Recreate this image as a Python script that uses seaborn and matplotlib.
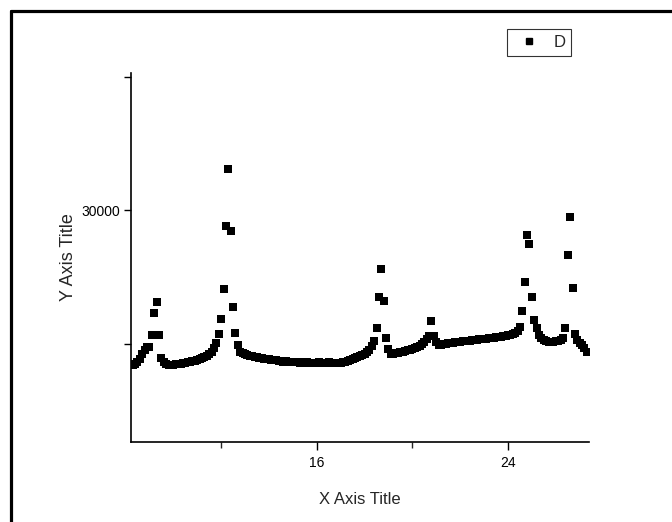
import matplotlib
matplotlib.use("Agg")
import matplotlib.pyplot as plt
import seaborn as sns
from matplotlib.lines import Line2D

# diffraction scan
two_theta = [
    8.3, 8.4, 8.5, 8.6, 8.7, 8.8, 8.9, 9.0, 9.1, 9.2,
    9.3, 9.4, 9.5, 9.6, 9.7, 9.8, 9.9, 10.0, 10.1, 10.2,
    10.3, 10.4, 10.5, 10.6, 10.7, 10.8, 10.9, 11.0, 11.1, 11.2,
    11.3, 11.4, 11.5, 11.6, 11.7, 11.8, 11.9, 12.0, 12.1, 12.2,
    12.3, 12.4, 12.5, 12.6, 12.7, 12.8, 12.9, 13.0, 13.1, 13.2,
    13.3, 13.4, 13.5, 13.6, 13.7, 13.8, 13.9, 14.0, 14.1, 14.2,
    14.3, 14.4, 14.5, 14.6, 14.7, 14.8, 14.9, 15.0, 15.1, 15.2,
    15.3, 15.4, 15.5, 15.6, 15.7, 15.8, 15.9, 16.0, 16.1, 16.2,
    16.3, 16.4, 16.5, 16.6, 16.7, 16.8, 16.9, 17.0, 17.1, 17.2,
    17.3, 17.4, 17.5, 17.6, 17.7, 17.8, 17.9, 18.0, 18.1, 18.2,
    18.3, 18.4, 18.5, 18.6, 18.7, 18.8, 18.9, 19.0, 19.1, 19.2,
    19.3, 19.4, 19.5, 19.6, 19.7, 19.8, 19.9, 20.0, 20.1, 20.2,
    20.3, 20.4, 20.5, 20.6, 20.7, 20.8, 20.9, 21.0, 21.1, 21.2,
    21.3, 21.4, 21.5, 21.6, 21.7, 21.8, 21.9, 22.0, 22.1, 22.2,
    22.3, 22.4, 22.5, 22.6, 22.7, 22.8, 22.9, 23.0, 23.1, 23.2,
    23.3, 23.4, 23.5, 23.6, 23.7, 23.8, 23.9, 24.0, 24.1, 24.2,
    24.3, 24.4, 24.5, 24.6, 24.7, 24.8, 24.9, 25.0, 25.1, 25.2,
    25.3, 25.4, 25.5, 25.6, 25.7, 25.8, 25.9, 26.0, 26.1, 26.2,
    26.3, 26.4, 26.5, 26.6, 26.7, 26.8, 26.9, 27.0, 27.1, 27.2,
    27.3,
]
intensity = [
    18390, 18460, 18610, 18840, 19210, 19510, 19740, 19740, 20640, 22280,
    23110, 20640, 18910, 18610, 18460, 18390, 18390, 18390, 18460, 18460,
    18460, 18540, 18540, 18610, 18610, 18690, 18690, 18760, 18840, 18910,
    18990, 19060, 19210, 19360, 19660, 20040, 20710, 21840, 24080, 28800,
    33070, 28430, 22730, 20790, 19890, 19360, 19290, 19210, 19140, 19060,
    19060, 18990, 18990, 18910, 18910, 18840, 18840, 18840, 18760, 18760,
    18760, 18690, 18690, 18610, 18690, 18610, 18610, 18610, 18610, 18610,
    18540, 18610, 18540, 18610, 18540, 18540, 18540, 18540, 18610, 18540,
    18540, 18540, 18610, 18540, 18540, 18540, 18540, 18540, 18610, 18610,
    18690, 18760, 18840, 18910, 18990, 19060, 19140, 19210, 19360, 19510,
    19810, 20190, 21160, 23480, 25580, 23180, 20410, 19590, 19210, 19210,
    19290, 19290, 19360, 19360, 19440, 19510, 19510, 19590, 19660, 19740,
    19810, 19960, 20110, 20340, 20560, 21690, 20560, 20110, 19890, 19890,
    19960, 19960, 20040, 20040, 20040, 20110, 20110, 20110, 20190, 20190,
    20190, 20190, 20260, 20260, 20260, 20340, 20340, 20340, 20340, 20410,
    20410, 20410, 20490, 20490, 20490, 20560, 20560, 20640, 20640, 20710,
    20790, 20940, 21240, 22430, 24610, 28130, 27450, 23480, 21760, 21160,
    20640, 20410, 20260, 20190, 20110, 20110, 20110, 20190, 20190, 20260,
    20410, 21160, 26630, 29480, 24160, 20710, 20260, 20040, 19890, 19660,
    19360,
]
series_name = "D"
x_major = [16, 24]
x_minor = [12, 20]
y_ticks = [20000, 30000, 40000]
y_ticklabels = ["", "30000", ""]

sns.set_style("ticks")
plt.rcParams["font.family"] = ["Liberation Sans", "DejaVu Sans"]

fig = plt.figure(figsize=(6.72, 5.22), dpi=100)
ax = fig.add_axes([0.195, 0.154, 0.6815, 0.706])

sns.scatterplot(x=two_theta, y=intensity, marker="s", s=28, color="black",
                linewidth=0, ax=ax, legend=False)

ax.set_xlim(8.23, 27.39)
ax.set_ylim(12660, 40260)
ax.set_xticks(x_major)
ax.set_xticks(x_minor, minor=True)
ax.set_yticks(y_ticks)
ax.set_yticklabels(y_ticklabels)
ax.tick_params(axis="both", which="major", direction="out", length=6,
               width=1, labelsize=10, colors="black", pad=4)
ax.tick_params(axis="x", which="minor", direction="out", length=4, width=1)
ax.tick_params(axis="y", which="major", length=5, pad=3)

for side in ["top", "right"]:
    ax.spines[side].set_visible(False)
for side in ["left", "bottom"]:
    ax.spines[side].set_linewidth(1.2)
    ax.spines[side].set_color("black")

ax.set_xlabel("X Axis Title", fontsize=12)
ax.set_ylabel("Y Axis Title", fontsize=13)
ax.xaxis.set_label_coords(0.5, -0.137)
ax.yaxis.set_label_coords(-0.119, 0.5)

handle = Line2D([], [], marker="s", linestyle="none", color="black", markersize=5)
leg = ax.legend([handle], [series_name], loc="upper right",
                bbox_to_anchor=(571 / 672, 1 - 29 / 522),
                bbox_transform=fig.transFigure, borderaxespad=0,
                frameon=True, fancybox=False, edgecolor="black",
                fontsize=12, handlelength=2.0, handletextpad=0.45,
                borderpad=0.35)
leg.get_frame().set_linewidth(0.8)

# page frame (only top and left edges show in the source)
fig.add_artist(Line2D([10.5 / 672, 1], [1 - 10.5 / 522] * 2, color="black", lw=2.3,
                      transform=fig.transFigure))
fig.add_artist(Line2D([10.5 / 672] * 2, [0, 1 - 10.5 / 522], color="black", lw=2.3,
                      transform=fig.transFigure))

fig.savefig("out.png", dpi=100)
